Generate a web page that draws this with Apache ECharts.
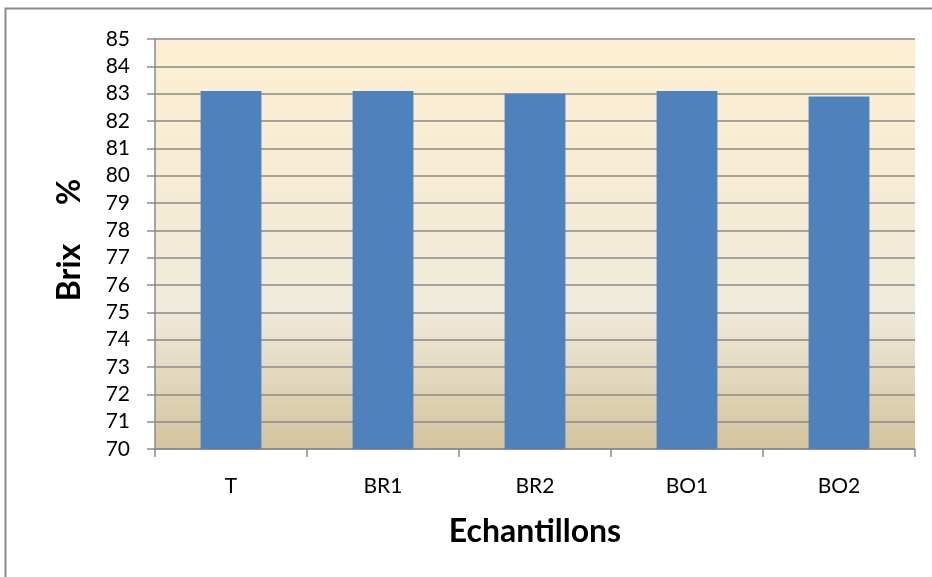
<!DOCTYPE html>
<html>
<head>
<meta charset="utf-8">
<script src="https://cdn.jsdelivr.net/npm/echarts@6/dist/echarts.min.js"></script>
<style>
  html, body { margin: 0; padding: 0; background: #ffffff; }
  #chart { width: 932px; height: 577px; }
</style>
</head>
<body>
<div id="chart"></div>
<script>
// Brix (%) measured for each sample
const categories = ['T', 'BR1', 'BR2', 'BO1', 'BO2'];
const brixValues = [83.1, 83.1, 83.0, 83.1, 82.9];

const FONT = 'Lato, "Open Sans", sans-serif';
const GRID = { left: 155, right: 17, top: 39, bottom: 128 };

const chart = echarts.init(document.getElementById('chart'), null, { renderer: 'canvas' });

chart.setOption({
  animation: false,
  backgroundColor: '#ffffff',
  graphic: [
    {
      // outer chart frame
      type: 'rect',
      silent: true,
      z: 0,
      shape: { x: 5.5, y: 8.5, width: 960, height: 600 },
      style: { fill: 'none', stroke: '#8a8a8a', lineWidth: 2 }
    }
  ],
  grid: {
    left: GRID.left, right: GRID.right, top: GRID.top, bottom: GRID.bottom,
    show: true,
    borderWidth: 0,
    backgroundColor: new echarts.graphic.LinearGradient(0, 0, 0, 1, [
      { offset: 0, color: '#fdefd3' },
      { offset: 0.35, color: '#f6ebd3' },
      { offset: 0.65, color: '#f0ebdc' },
      { offset: 1, color: '#d4c49e' }
    ])
  },
  xAxis: {
    type: 'category',
    data: categories,
    name: 'Echantillons',
    nameLocation: 'middle',
    nameGap: 67,
    nameTextStyle: { fontFamily: FONT, fontSize: 32, fontWeight: 'bold', color: '#000' },
    axisLine: { lineStyle: { color: '#8a8a8a', width: 1.5 } },
    axisTick: { show: true, alignWithLabel: false, length: 8, lineStyle: { color: '#8a8a8a', width: 1.5 } },
    axisLabel: { fontFamily: FONT, fontSize: 21, color: '#000', margin: 27 }
  },
  yAxis: {
    type: 'value',
    min: 70,
    max: 85,
    interval: 1,
    name: 'Brix     %',
    nameLocation: 'middle',
    nameGap: 69,
    nameRotate: 90,
    nameTextStyle: { fontFamily: FONT, fontSize: 32, fontWeight: 'bold', color: '#000', padding: [0, 0, 0, 8] },
    axisLine: { show: true, lineStyle: { color: '#8a8a8a', width: 1.5 } },
    axisTick: { show: true, length: 8, lineStyle: { color: '#8a8a8a', width: 1.5 } },
    axisLabel: { fontFamily: FONT, fontSize: 21, color: '#000', margin: 25 },
    splitLine: { show: true, lineStyle: { color: '#8a8a8a', width: 1.6 } }
  },
  series: [
    {
      type: 'bar',
      data: brixValues,
      barWidth: '40%',
      itemStyle: { color: '#4f81bd' },
      z: 3
    }
  ]
});
</script>
</body>
</html>
